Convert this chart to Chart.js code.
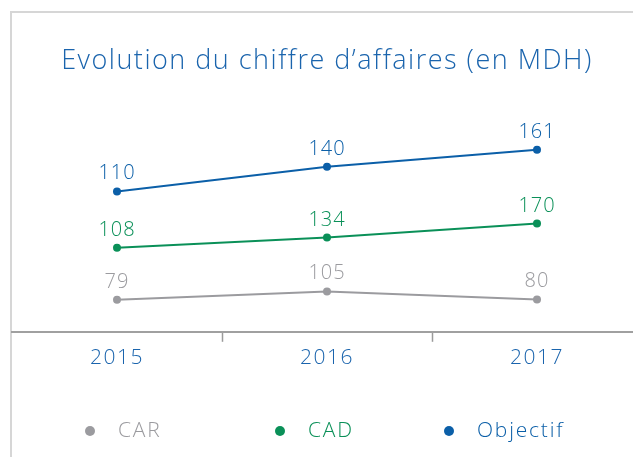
<!DOCTYPE html>
<html>
<head>
<meta charset="utf-8">
<script src="https://cdn.jsdelivr.net/npm/chart.js@4"></script>
<style>
    html, body { margin: 0; padding: 0; background: #fff; overflow: hidden; }
    #wrap { position: relative; width: 633px; height: 457px; overflow: hidden; font-family: 'Open Sans', sans-serif; font-weight: 300; }
    #frame { position: absolute; left: 10px; top: 11px; width: 700px; height: 500px; border-left: 2px solid #d6d6d6; border-top: 2px solid #d6d6d6; }
    #box { position: absolute; left: 0; top: 0; width: 660px; height: 457px; }
    .leg { position: absolute; top: 416px; font-size: 21px; line-height: 26px; letter-spacing: 1.8px; }
    .dot { position: absolute; top: 426px; width: 10px; height: 10px; border-radius: 50%; }
</style>
</head>
<body>
<div id="wrap">
    <div id="frame"></div>
    <div id="box"><canvas id="chartCA" width="660" height="457"></canvas></div>
    <div class="dot" style="left:85px;background:#9b9b9f"></div>
    <div class="leg" style="left:118px;color:#9b9b9f">CAR</div>
    <div class="dot" style="left:275px;background:#0a9058"></div>
    <div class="leg" style="left:308px;color:#0a9058">CAD</div>
    <div class="dot" style="left:444px;background:#0b5fa8"></div>
    <div class="leg" style="left:477px;color:#0b5fa8">Objectif</div>
</div>
<script>
// Data
var years = ['2015', '2016', '2017'];
var carValues = [79, 105, 80];
var cadValues = [108, 134, 170];
var objValues = [110, 140, 161];

// colours
var grey = '#9b9b9f';
var green = '#0a9058';
var blue = '#0b5fa8';

// each line sits on its own hidden scale (the original is not drawn to a common scale)
var carRange = [-22, 706];
var cadRange = [-108, 486];
var objRange = [-61, 221];

// wider letters, closer to the original typeface
var spacing = {
    id: 'spacing',
    beforeDraw: function (chart) {
        chart.ctx.letterSpacing = '1.5px';
    }
};

// value labels above each point
var pointLabels = {
    id: 'pointLabels',
    afterDatasetsDraw: function (chart) {
        var ctx = chart.ctx;
        ctx.save();
        ctx.font = '300 20px "Open Sans"';
        ctx.letterSpacing = '1px';
        ctx.textAlign = 'center';
        ctx.textBaseline = 'alphabetic';
        chart.data.datasets.forEach(function (ds, i) {
            var meta = chart.getDatasetMeta(i);
            ctx.fillStyle = ds.borderColor;
            meta.data.forEach(function (pt, j) {
                ctx.fillText(ds.data[j], pt.x, pt.y - 12);
            });
        });
        ctx.restore();
    }
};

var ctx = document.getElementById('chartCA').getContext('2d');
var chartCA = new Chart(ctx, {
    type: 'line',
    data: {
        labels: years,
        datasets: [{
            label: 'CAR',
            data: carValues,
            borderColor: grey,
            backgroundColor: grey,
            yAxisID: 'yCar'
        }, {
            label: 'CAD',
            data: cadValues,
            borderColor: green,
            backgroundColor: green,
            yAxisID: 'yCad'
        }, {
            label: 'Objectif',
            data: objValues,
            borderColor: blue,
            backgroundColor: blue,
            yAxisID: 'yObj'
        }]
    },
    options: {
        responsive: false,
        animation: false,
        devicePixelRatio: 1,
        layout: { padding: { top: 45, left: 12, right: 18, bottom: 82 } },
        elements: {
            line: { borderWidth: 2, tension: 0 },
            point: { radius: 4, hoverRadius: 4, borderWidth: 0 }
        },
        plugins: {
            legend: { display: false },
            tooltip: { enabled: false },
            title: {
                display: true,
                text: 'Evolution du chiffre d\u2019affaires (en MDH)',
                color: '#1a64ad',
                font: { family: 'Open Sans', size: 27, weight: 300 },
                padding: { top: 0, bottom: 23 }
            }
        },
        scales: {
            x: {
                offset: true,
                grid: {
                    offset: true,
                    drawOnChartArea: false,
                    tickLength: 10,
                    tickWidth: 1.5,
                    color: function (c) { return c.index === 0 ? 'rgba(0,0,0,0)' : '#9a9a9a'; }
                },
                border: { color: '#a0a0a0', width: 2 },
                ticks: { color: '#1a64ad', padding: 4, font: { family: 'Open Sans', size: 21, weight: 300 } }
            },
            yCar: { display: false, min: carRange[0], max: carRange[1] },
            yCad: { display: false, min: cadRange[0], max: cadRange[1] },
            yObj: { display: false, min: objRange[0], max: objRange[1] }
        }
    },
    plugins: [spacing, pointLabels]
});
</script>
</body>
</html>
